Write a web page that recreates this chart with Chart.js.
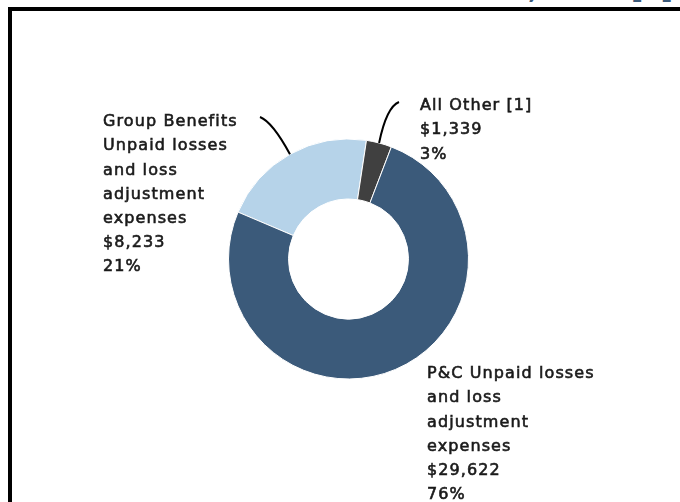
<!DOCTYPE html>
<html>
<head>
<meta charset="utf-8">
<script src="https://cdn.jsdelivr.net/npm/chart.js@4.4.1/dist/chart.umd.min.js"></script>
<style>
  html, body { margin: 0; padding: 0; background: #fff; overflow: hidden; }
  #wrap { position: relative; width: 680px; height: 502px; }
  #frame {
    position: absolute; left: 8px; top: 7px; width: 700px; height: 520px;
    border-left: 4px solid #000; border-top: 4px solid #000;
  }
  .cut {
    position: absolute; top: -26px; margin: 0;
    font: bold 26px "DejaVu Sans", sans-serif; color: #3b5a7a; white-space: pre;
  }
  canvas { position: absolute; left: 0; top: 0; }
</style>
</head>
<body>
<div id="wrap">
  <div class="cut" style="left:528px">,</div>
  <div class="cut" style="left:631px">[1]</div>
  <div id="frame"></div>
  <canvas id="donut" width="680" height="502"></canvas>
</div>
<script>
// ── Data ──────────────────────────────────────────────────────────────────
var categories = ['Group Benefits Unpaid losses and loss adjustment expenses',
                  'All Other [1]',
                  'P&C Unpaid losses and loss adjustment expenses'];
var values     = [8233, 1339, 29622];
var percents   = ['21%', '3%', '76%'];
var colors     = ['#b6d3e9', '#404040', '#3b5a7a'];

// label text as wrapped in the original
var labelLines = [
  ['Group Benefits', 'Unpaid losses', 'and loss', 'adjustment', 'expenses'],
  ['All Other [1]'],
  ['P&C Unpaid losses', 'and loss', 'adjustment', 'expenses']
];

// label placement, relative to the doughnut centre (dx, dy of first line)
// lead: start of leader line relative to centre, ctrl: bend point (null = no leader)
var labelPos = [
  { dx: -245.5, dy: -137, lead: [-88.5, -142], ctrl: [-76, -137] },
  { dx:   71.5, dy: -153, lead: [ 50.5, -157], ctrl: [ 38, -152] },
  { dx:   78.5, dy:  115, lead: null }
];

function money(v) {
  return '$' + v.toLocaleString('en-US');
}

// ── Labels + leader lines ─────────────────────────────────────────────────
var calloutPlugin = {
  id: 'callouts',
  afterDatasetsDraw: function(chart) {
    var ctx  = chart.ctx;
    var meta = chart.getDatasetMeta(0);
    ctx.save();
    meta.data.forEach(function(arc, i) {
      var p  = labelPos[i];
      var cx = arc.x, cy = arc.y;

      if (p.lead) {
        var mid = (arc.startAngle + arc.endAngle) / 2;
        var ex  = cx + Math.cos(mid) * arc.outerRadius;
        var ey  = cy + Math.sin(mid) * arc.outerRadius;
        ctx.beginPath();
        ctx.moveTo(cx + p.lead[0], cy + p.lead[1]);
        ctx.quadraticCurveTo(cx + p.ctrl[0], cy + p.ctrl[1], ex, ey);
        ctx.strokeStyle = '#000';
        ctx.lineWidth   = 2;
        ctx.stroke();
      }

      // DejaVu has no medium weight: a thin stroke thickens the regular face
      var lines = labelLines[i].concat([money(values[i]), percents[i]]);
      ctx.fillStyle     = '#1a1a1a';
      ctx.strokeStyle   = '#1a1a1a';
      ctx.lineWidth     = 0.6;
      ctx.font          = '16px "DejaVu Sans", sans-serif';
      ctx.letterSpacing = '1.1px';
      ctx.textAlign     = 'left';
      ctx.textBaseline  = 'middle';
      lines.forEach(function(t, k) {
        var y = cy + p.dy + k * 24.2;
        ctx.fillText(t, cx + p.dx, y);
        ctx.strokeText(t, cx + p.dx, y);
      });
    });
    ctx.restore();
  }
};

new Chart(document.getElementById('donut'), {
  type: 'doughnut',
  data: {
    labels: categories,
    datasets: [{
      data:            values,
      backgroundColor: colors,
      borderColor:     '#ffffff',
      borderWidth:     1,
      hoverOffset:     0
    }]
  },
  options: {
    responsive: false,
    animation:  false,
    devicePixelRatio: 1,
    cutout:   '50%',
    rotation: -67,
    layout: { padding: { left: 228, right: 211, top: 138, bottom: 122 } },
    plugins: {
      legend:  { display: false },
      tooltip: { enabled: false }
    }
  },
  plugins: [calloutPlugin]
});
</script>
</body>
</html>
